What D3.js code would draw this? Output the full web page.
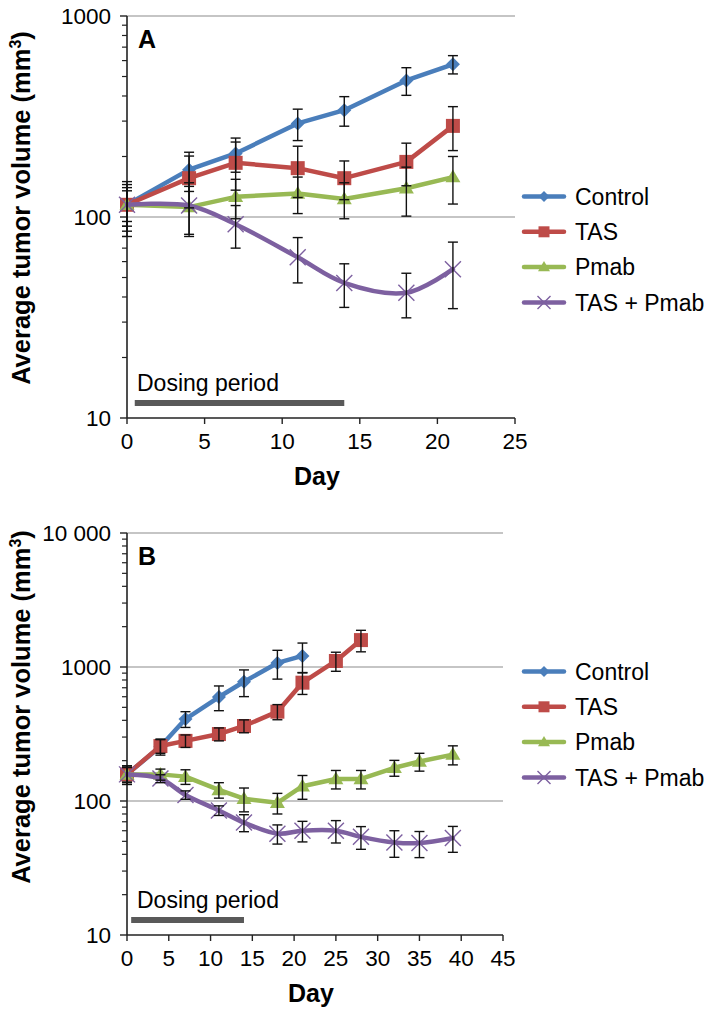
<!DOCTYPE html>
<html>
<head>
<meta charset="utf-8">
<script src="https://cdn.jsdelivr.net/npm/d3@7/dist/d3.min.js"></script>
<style>
  html, body { margin: 0; padding: 0; background: #ffffff; }
  svg { display: block; font-family: "Liberation Sans", Arial, sans-serif; }
</style>
</head>
<body>
<svg id="chart" width="709" height="1012"></svg>
<script>
// ---------- DATA ----------
const seriesNames = ["Control", "TAS", "Pmab", "TAS + Pmab"];

// Panel A
const daysA = [0, 4, 7, 11, 14, 18, 21];
const controlA = [115, 172, 207, 292, 340, 478, 575];
const controlSeA = [35, 38, 40, 52, 57, 75, 60];
const tasA = [115, 156, 186, 175, 156, 188, 284];
const tasSeA = [30, 45, 50, 50, 34, 45, 70];
const pmabA = [115, 112, 126, 131, 123, 139, 158];
const pmabSeA = [25, 30, 28, 27, 25, 38, 42];
const comboA = [115, 114, 92, 63, 47, 42, 55];
const comboSeA = [20, 34, 22, 16, 11.5, 10.5, 20];
const xTicksA = [0, 5, 10, 15, 20, 25];
const yTicksA = [10, 100, 1000];
const yTickLabelsA = ["10", "100", "1000"];

// Panel B
const daysControlB = [0, 4, 7, 11, 14, 18, 21];
const controlB = [158, 255, 409, 597, 776, 1072, 1209];
const controlSeB = [25, 35, 55, 125, 175, 260, 300];
const daysTasB = [0, 4, 7, 11, 14, 18, 21, 25, 28];
const tasB = [158, 257, 281, 316, 363, 464, 764, 1109, 1588];
const tasSeB = [25, 30, 30, 35, 40, 60, 140, 180, 290];
const daysPmabB = [0, 4, 7, 11, 14, 18, 21, 25, 28, 32, 35, 39];
const pmabB = [158, 158, 152, 121, 104, 97, 129, 146, 146, 177, 197, 222];
const pmabSeB = [20, 15, 19, 16, 21, 17, 26, 23, 23, 24, 30, 36];
const comboB = [158, 147, 111, 85, 69, 57, 60, 60, 54, 49, 48.5, 53];
const comboSeB = [20, 10, 8, 7, 10, 9.3, 10.5, 11.4, 10.4, 11, 10.7, 11.6];
const xTicksB = [0, 5, 10, 15, 20, 25, 30, 35, 40, 45];
const yTicksB = [10, 100, 1000, 10000];
const yTickLabelsB = ["10", "100", "1000", "10 000"];

const dosingPeriod = [0.5, 14];

// ---------- STYLE ----------
const colors = ["#4A7EBB", "#BE4B48", "#98B954", "#7D60A0"];
const markerTypes = ["diamond", "square", "triangle", "x"];
const markerSize = [7, 7, 7.5, 8];

const svg = d3.select("#chart");

function markerPath(type, s) {
  if (type === "diamond") return `M0,${-s}L${s},0L0,${s}L${-s},0Z`;
  if (type === "square") return `M${-s},${-s}H${s}V${s}H${-s}Z`;
  if (type === "triangle") return `M0,${-s}L${s},${s * 0.7}L${-s},${s * 0.7}Z`;
  return `M${-s},${-s}L${s},${s}M${-s},${s}L${s},${-s}`;
}

function drawMarker(g, type, color, x, y, s) {
  const p = g.append("path")
    .attr("d", markerPath(type, s))
    .attr("transform", `translate(${x},${y})`);
  if (type === "x") {
    p.attr("fill", "none").attr("stroke", color).attr("stroke-width", 1.4);
  } else {
    p.attr("fill", color).attr("stroke", "none");
  }
}

function drawPanel(cfg) {
  const g = svg.append("g");
  const x = d3.scaleLinear().domain([0, cfg.xMax]).range([cfg.left, cfg.right]);
  const y = d3.scaleLog().domain([10, cfg.yMax]).range([cfg.bottom, cfg.top]);

  // grid lines at decades (except bottom)
  g.selectAll(".grid").data(cfg.yTicks.filter(v => v > 10)).enter()
    .append("line")
    .attr("x1", cfg.left).attr("x2", cfg.right)
    .attr("y1", d => y(d)).attr("y2", d => y(d))
    .attr("stroke", "#8c8c8c").attr("stroke-width", 1.2);

  // y axis with minor ticks
  const minor = [];
  for (let dec = 10; dec < cfg.yMax; dec *= 10) {
    for (let k = 2; k <= 9; k++) minor.push(dec * k);
  }
  g.selectAll(".minor").data(minor).enter().append("line")
    .attr("x1", cfg.left - 5).attr("x2", cfg.left)
    .attr("y1", d => y(d)).attr("y2", d => y(d))
    .attr("stroke", "#222").attr("stroke-width", 1.2);
  g.selectAll(".major").data(cfg.yTicks).enter().append("line")
    .attr("x1", cfg.left - 7).attr("x2", cfg.left)
    .attr("y1", d => y(d)).attr("y2", d => y(d))
    .attr("stroke", "#222").attr("stroke-width", 1.4);
  g.append("line")
    .attr("x1", cfg.left).attr("x2", cfg.left)
    .attr("y1", cfg.top).attr("y2", cfg.bottom)
    .attr("stroke", "#222").attr("stroke-width", 1.6);
  g.selectAll(".ylab").data(cfg.yTicks).enter().append("text")
    .attr("x", cfg.left - 16).attr("y", d => y(d))
    .attr("dy", "0.36em")
    .attr("text-anchor", "end")
    .attr("font-size", 22.5)
    .attr("fill", "#000")
    .text((d, i) => cfg.yTickLabels[i]);

  // x axis
  g.append("line")
    .attr("x1", cfg.left).attr("x2", cfg.right)
    .attr("y1", cfg.bottom).attr("y2", cfg.bottom)
    .attr("stroke", "#222").attr("stroke-width", 1.6);
  g.selectAll(".xt").data(cfg.xTicks).enter().append("line")
    .attr("x1", d => x(d)).attr("x2", d => x(d))
    .attr("y1", cfg.bottom).attr("y2", cfg.bottom + 6)
    .attr("stroke", "#222").attr("stroke-width", 1.4);
  g.selectAll(".xlab").data(cfg.xTicks).enter().append("text")
    .attr("x", d => x(d)).attr("y", cfg.bottom + 31)
    .attr("text-anchor", "middle")
    .attr("font-size", 22.5)
    .attr("fill", "#000")
    .text(d => d);

  // axis titles
  g.append("text")
    .attr("x", (cfg.left + cfg.right) / 2 - 4)
    .attr("y", cfg.bottom + 67)
    .attr("text-anchor", "middle")
    .attr("font-size", 25).attr("font-weight", "bold")
    .text("Day");
  const yt = g.append("text")
    .attr("transform", `translate(${29.5},${cfg.titleY}) rotate(-90)`)
    .attr("text-anchor", "middle")
    .attr("font-size", 25.5).attr("font-weight", "bold");
  yt.append("tspan").text("Average tumor volume (mm");
  yt.append("tspan").attr("font-size", 16).attr("dy", -9).text("3");
  yt.append("tspan").attr("dy", 9).text(")");

  // panel letter
  g.append("text")
    .attr("x", cfg.left + 11).attr("y", cfg.top + 32)
    .attr("font-size", 25).attr("font-weight", "bold")
    .text(cfg.letter);

  // dosing period
  g.append("text")
    .attr("x", cfg.left + 10).attr("y", cfg.bottom - 27)
    .attr("font-size", 23)
    .text("Dosing period");
  g.append("line")
    .attr("x1", x(dosingPeriod[0])).attr("x2", x(dosingPeriod[1]))
    .attr("y1", cfg.bottom - 15).attr("y2", cfg.bottom - 15)
    .attr("stroke", "#595959").attr("stroke-width", 6);

  // series lines + markers
  cfg.series.forEach((s, i) => {
    const pts = s.days.map((d, j) => [x(d), y(s.values[j])]);
    const line = d3.line().curve(i === 3 ? d3.curveCatmullRom.alpha(0.5) : d3.curveLinear);
    g.append("path")
      .attr("d", line(pts))
      .attr("fill", "none")
      .attr("stroke", colors[i])
      .attr("stroke-width", 4.5)
      .attr("stroke-linejoin", "round")
      .attr("stroke-linecap", "round");
    pts.forEach(p => drawMarker(g, markerTypes[i], colors[i], p[0], p[1], markerSize[i]));
  });

  // error bars on top
  cfg.series.forEach((s, i) => {
    s.days.forEach((d, j) => {
      const cx = x(d);
      const hi = s.values[j] + s.se[j];
      const lo = Math.max(s.values[j] - s.se[j], 10);
      const yh = y(hi), yl = y(lo);
      g.append("line").attr("x1", cx).attr("x2", cx).attr("y1", yh).attr("y2", yl)
        .attr("stroke", "#111").attr("stroke-width", 1.4);
      [yh, yl].forEach(yy => {
        g.append("line").attr("x1", cx - 5).attr("x2", cx + 5).attr("y1", yy).attr("y2", yy)
          .attr("stroke", "#111").attr("stroke-width", 1.4);
      });
    });
  });

  // legend
  seriesNames.forEach((name, i) => {
    const ly = cfg.legendY + i * 35.3;
    g.append("line")
      .attr("x1", 524).attr("x2", 564)
      .attr("y1", ly).attr("y2", ly)
      .attr("stroke", colors[i]).attr("stroke-width", 4.5)
      .attr("stroke-linecap", "round");
    drawMarker(g, markerTypes[i], colors[i], 544, ly, markerSize[i] - 1.5);
    g.append("text")
      .attr("x", 575).attr("y", ly).attr("dy", "0.36em")
      .attr("font-size", 23)
      .text(name);
  });
}

drawPanel({
  letter: "A",
  left: 127, right: 515, top: 16, bottom: 418,
  xMax: 25, yMax: 1000,
  xTicks: xTicksA, yTicks: yTicksA, yTickLabels: yTickLabelsA,
  titleY: 208, legendY: 196.5,
  series: [
    { days: daysA, values: controlA, se: controlSeA },
    { days: daysA, values: tasA, se: tasSeA },
    { days: daysA, values: pmabA, se: pmabSeA },
    { days: daysA, values: comboA, se: comboSeA }
  ]
});

drawPanel({
  letter: "B",
  left: 127, right: 503, top: 533, bottom: 935,
  xMax: 45, yMax: 10000,
  xTicks: xTicksB, yTicks: yTicksB, yTickLabels: yTickLabelsB,
  titleY: 707, legendY: 671.5,
  series: [
    { days: daysControlB, values: controlB, se: controlSeB },
    { days: daysTasB, values: tasB, se: tasSeB },
    { days: daysPmabB, values: pmabB, se: pmabSeB },
    { days: daysPmabB, values: comboB, se: comboSeB }
  ]
});
</script>
</body>
</html>
